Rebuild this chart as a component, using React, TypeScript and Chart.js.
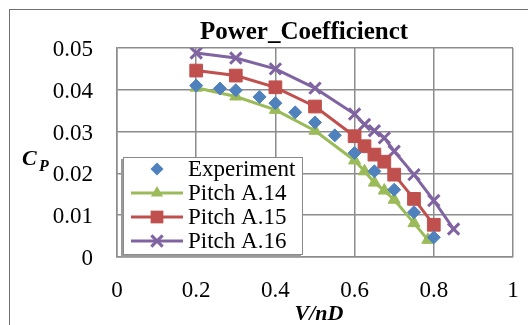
import React, { useEffect, useRef } from 'react';
import { Chart, registerables } from 'chart.js';

Chart.register(...registerables);

// ---- data ----
const xExperiment = [0.2, 0.26, 0.3, 0.36, 0.4, 0.45, 0.5, 0.55, 0.6, 0.65, 0.7, 0.75, 0.8];
const cpExperiment = [0.041, 0.0403, 0.0399, 0.0383, 0.0368, 0.0346, 0.0322, 0.0291, 0.0249, 0.0205, 0.0161, 0.0107, 0.0047];

const xPitchA14 = [0.2, 0.3, 0.4, 0.5, 0.6, 0.625, 0.65, 0.675, 0.7, 0.75, 0.785];
const cpPitchA14 = [0.0405, 0.0384, 0.0352, 0.0302, 0.0231, 0.0205, 0.0178, 0.0159, 0.0137, 0.0081, 0.0041];

const xPitchA15 = [0.2, 0.3, 0.4, 0.5, 0.6, 0.625, 0.65, 0.675, 0.7, 0.75, 0.8];
const cpPitchA15 = [0.0446, 0.0434, 0.0406, 0.036, 0.0289, 0.0265, 0.0245, 0.0228, 0.0197, 0.0139, 0.0077];

const xPitchA16 = [0.2, 0.3, 0.4, 0.5, 0.6, 0.625, 0.65, 0.675, 0.7, 0.75, 0.8, 0.85];
const cpPitchA16 = [0.0488, 0.0476, 0.045, 0.0404, 0.0342, 0.0317, 0.0302, 0.0285, 0.0253, 0.0197, 0.0135, 0.0067];

const seriesLabels = ['Experiment', 'Pitch A.14', 'Pitch A.15', 'Pitch A.16'];
const chartTitle = 'Power_Coefficienct';
const xTitle = 'V/nD';
const yTitleMain = 'C';
const yTitleSub = 'P';

const FONT = '"Liberation Serif", "Times New Roman", serif';
const BLUE = '#4F81BD';
const GREEN = '#9BBB59';
const RED = '#C0504D';
const PURPLE = '#8064A2';

const pts = (xs: number[], ys: number[]) => xs.map((x, i) => ({ x, y: ys[i] }));

function drawMarker(ctx: CanvasRenderingContext2D, style: string, x: number, y: number, r: number, color: string) {
  ctx.save();
  ctx.fillStyle = color;
  ctx.strokeStyle = color;
  ctx.beginPath();
  if (style === 'rectRot') {
    ctx.moveTo(x, y - r);
    ctx.lineTo(x + r, y);
    ctx.lineTo(x, y + r);
    ctx.lineTo(x - r, y);
    ctx.closePath();
    ctx.fill();
  } else if (style === 'triangle') {
    for (let k = 0; k < 3; k++) {
      const a = (k * 2 * Math.PI) / 3;
      const px = x + Math.sin(a) * r;
      const py = y - Math.cos(a) * r;
      if (k === 0) ctx.moveTo(px, py);
      else ctx.lineTo(px, py);
    }
    ctx.closePath();
    ctx.fill();
  } else if (style === 'rect') {
    const s = r * Math.SQRT1_2;
    ctx.rect(x - s, y - s, 2 * s, 2 * s);
    ctx.fill();
  } else if (style === 'crossRot') {
    const s = r * Math.SQRT1_2;
    ctx.lineWidth = 3;
    ctx.moveTo(x - s, y - s);
    ctx.lineTo(x + s, y + s);
    ctx.moveTo(x + s, y - s);
    ctx.lineTo(x - s, y + s);
    ctx.stroke();
  }
  ctx.restore();
}

const decor = {
  id: 'decor',
  beforeDraw(chart: any) {
    const ctx = chart.ctx as CanvasRenderingContext2D;
    ctx.save();
    ctx.fillStyle = '#ffffff';
    ctx.fillRect(0, 0, chart.width, chart.height);
    ctx.strokeStyle = '#707070';
    ctx.lineWidth = 1;
    ctx.strokeRect(9.5, 9.5, 800, 600);
    ctx.restore();
  },
  afterDraw(chart: any) {
    const ctx = chart.ctx as CanvasRenderingContext2D;
    const area = chart.chartArea;
    ctx.save();
    // title
    ctx.fillStyle = '#000';
    ctx.font = `bold 25px ${FONT}`;
    ctx.textAlign = 'center';
    ctx.textBaseline = 'alphabetic';
    ctx.fillText(chartTitle, 304, 39);

    // x title
    ctx.font = `italic bold 22px ${FONT}`;
    ctx.fillText(xTitle, (area.left + area.right) / 2 + 4, 320);

    // y title with subscript
    ctx.textAlign = 'left';
    ctx.font = `italic bold 22px ${FONT}`;
    ctx.fillText(yTitleMain, 22, 165);
    ctx.font = `italic bold 16px ${FONT}`;
    ctx.fillText(yTitleSub, 39, 171);

    // legend
    const bx = 123, by = 157, bw = 180, bh = 98;
    ctx.fillStyle = '#9a9a9a';
    ctx.fillRect(bx - 2, by + 2, bw, bh);
    ctx.fillStyle = '#ffffff';
    ctx.fillRect(bx, by, bw, bh);
    ctx.strokeStyle = '#8a8a8a';
    ctx.lineWidth = 1;
    ctx.strokeRect(bx + 0.5, by + 0.5, bw - 1, bh - 1);

    const rows = [169, 193, 217, 241];
    chart.data.datasets.forEach((ds: any, i: number) => {
      const y = rows[i];
      if (ds.showLine) {
        ctx.strokeStyle = ds.borderColor;
        ctx.lineWidth = 3;
        ctx.beginPath();
        ctx.moveTo(131, y);
        ctx.lineTo(183, y);
        ctx.stroke();
      }
      drawMarker(ctx, ds.pointStyle, 157, y, ds.pointRadius, ds.pointBackgroundColor);
      ctx.fillStyle = '#000';
      ctx.font = `23px ${FONT}`;
      ctx.textAlign = 'left';
      ctx.textBaseline = 'middle';
      ctx.fillText(ds.label, 188, y + 1);
    });
    ctx.restore();
  },
};

const fmt = (v: any) => String(Number(Number(v).toFixed(2)));

export default function App() {
  const ref = useRef<HTMLCanvasElement>(null);
  useEffect(() => {
    document.body.style.margin = '0';
    const chart = new Chart(ref.current!, {
      type: 'scatter',
      data: {
        datasets: [
          {
            label: seriesLabels[0],
            data: pts(xExperiment, cpExperiment),
            showLine: false,
            pointStyle: 'rectRot',
            pointRadius: 6.5,
            pointBackgroundColor: BLUE,
            pointBorderColor: BLUE,
            pointBorderWidth: 1,
            borderColor: BLUE,
            backgroundColor: BLUE,
          },
          {
            label: seriesLabels[1],
            data: pts(xPitchA14, cpPitchA14),
            showLine: true,
            borderWidth: 3,
            pointStyle: 'triangle',
            pointRadius: 7,
            pointBackgroundColor: GREEN,
            pointBorderColor: GREEN,
            pointBorderWidth: 1,
            borderColor: GREEN,
            backgroundColor: GREEN,
          },
          {
            label: seriesLabels[2],
            data: pts(xPitchA15, cpPitchA15),
            showLine: true,
            borderWidth: 3,
            pointStyle: 'rect',
            pointRadius: 9,
            pointBackgroundColor: RED,
            pointBorderColor: RED,
            pointBorderWidth: 1,
            borderColor: RED,
            backgroundColor: RED,
          },
          {
            label: seriesLabels[3],
            data: pts(xPitchA16, cpPitchA16),
            showLine: true,
            borderWidth: 3,
            pointStyle: 'crossRot',
            pointRadius: 8,
            pointBackgroundColor: PURPLE,
            pointBorderColor: PURPLE,
            pointBorderWidth: 3,
            borderColor: PURPLE,
            backgroundColor: PURPLE,
          },
        ],
      } as any,
      options: {
        animation: false,
        responsive: false,
        devicePixelRatio: 1,
        layout: { padding: { top: 48, right: 15, left: 0, bottom: 0 } },
        plugins: {
          legend: { display: false },
          title: { display: false },
          tooltip: { enabled: false },
        },
        scales: {
          x: {
            type: 'linear',
            min: 0,
            max: 1,
            ticks: {
              stepSize: 0.2,
              padding: 20,
              color: '#000',
              font: { family: FONT, size: 23 },
              callback: fmt,
              maxRotation: 0,
            },
            grid: { color: '#8c8c8c', lineWidth: 1.5, drawTicks: false },
            border: { color: '#8c8c8c', width: 1.5 },
            afterFit: (s: any) => {
              s.height = 68;
              s.paddingLeft = 0;
              s.paddingRight = 0;
            },
          },
          y: {
            type: 'linear',
            min: 0,
            max: 0.05,
            ticks: {
              stepSize: 0.01,
              padding: 24,
              labelOffset: 2,
              color: '#000',
              font: { family: FONT, size: 23 },
              callback: fmt,
            },
            grid: { color: '#8c8c8c', lineWidth: 1.5, drawTicks: false },
            border: { color: '#8c8c8c', width: 1.5 },
            afterFit: (s: any) => {
              s.width = 117;
            },
          },
        },
      } as any,
      plugins: [decor],
    });
    return () => chart.destroy();
  }, []);
  return (
    <div style={{ width: 528, height: 325 }}>
      <canvas ref={ref} width={528} height={325} style={{ display: 'block' }} />
    </div>
  );
}
